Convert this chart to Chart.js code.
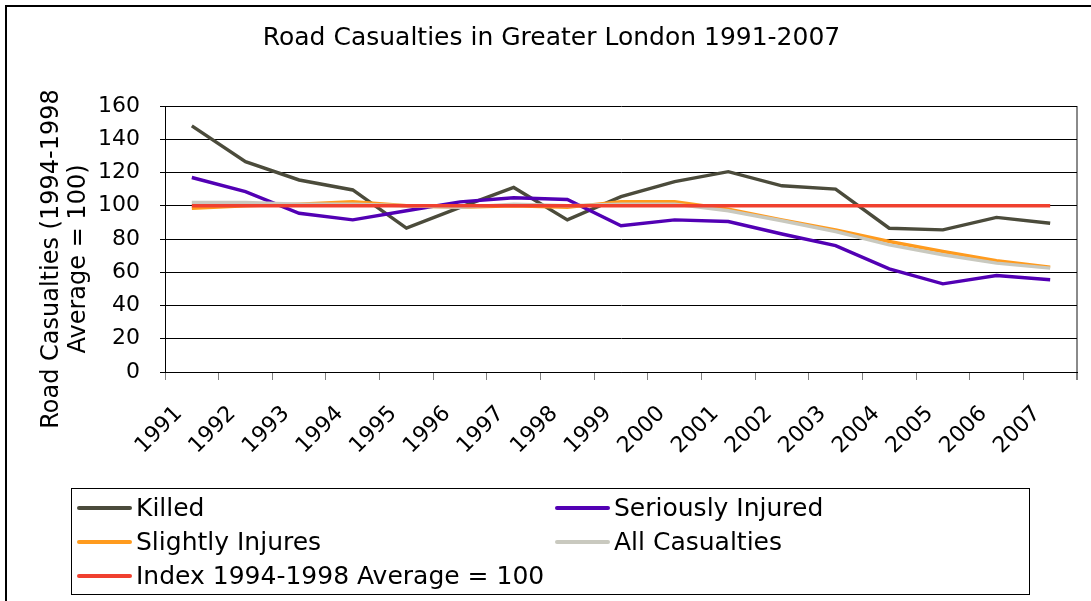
<!DOCTYPE html>
<html><head><meta charset="utf-8">
<script src="https://cdn.jsdelivr.net/npm/chart.js@4.4.1/dist/chart.umd.min.js"></script>
<style>html,body{margin:0;padding:0;background:#fff;} #wrap{position:relative;width:1091px;height:601px;}</style>
</head><body><div id="wrap"><canvas id="c"></canvas></div>
<script>
const chartTitle = 'Road Casualties in Greater London 1991-2007';
const yAxisTitle = ['Road Casualties (1994-1998', 'Average = 100)'];
const years = ['1991','1992','1993','1994','1995','1996','1997','1998','1999','2000','2001','2002','2003','2004','2005','2006','2007'];
const killed = [148, 126.5, 115.5, 109.5, 86.5, 99, 111, 91.5, 105.5, 114.5, 120.5, 112, 110, 86.5, 85.5, 93, 89.5];
const seriouslyInjured = [117, 108.5, 95.5, 91.5, 97, 102.3, 104.8, 103.8, 88, 91.5, 90.5, 83, 76, 62, 53, 58, 55.5];
const slightlyInjures = [98.5, 100, 101, 102.5, 100, 99, 100, 99, 102.5, 102.5, 98, 91.5, 85.5, 78.5, 72.5, 67, 63];
const allCasualties = [102, 102, 101, 101, 100, 99, 101, 100, 101, 101, 97, 91, 84.5, 76.5, 70.5, 65.5, 62.5];
const indexAverage = [100, 100, 100, 100, 100, 100, 100, 100, 100, 100, 100, 100, 100, 100, 100, 100, 100];
const seriesNames = ['Killed', 'Seriously Injured', 'Slightly Injures', 'All Casualties', 'Index 1994-1998 Average = 100'];
const seriesColors = ['#4b4b3b', '#5200b4', '#ff9b1e', '#c9c9bf', '#f0402f'];
const yMin = 0, yMax = 160, yStep = 20;

const FONT = '"DejaVu Sans", Verdana, sans-serif';

const framePlugin = {
  id: 'frame',
  beforeDraw(chart) {
    const ctx = chart.ctx;
    ctx.save();
    ctx.fillStyle = '#fff';
    ctx.fillRect(0, 0, chart.width, chart.height);
    ctx.strokeStyle = '#000';
    ctx.lineWidth = 2;
    ctx.beginPath();
    ctx.moveTo(6, chart.height);
    ctx.lineTo(6, 6);
    ctx.lineTo(chart.width, 6);
    ctx.stroke();
    ctx.restore();
  },
  afterDraw(chart) {
    const ctx = chart.ctx;
    ctx.save();
    // y axis title
    ctx.fillStyle = '#000';
    ctx.font = '24px ' + FONT;
    ctx.textAlign = 'center';
    ctx.textBaseline = 'middle';
    ctx.translate(52, 259);
    ctx.rotate(-Math.PI / 2);
    yAxisTitle.forEach((t, i) => ctx.fillText(t, 0, i * 27));
    ctx.restore();

    // legend
    ctx.save();
    const bx = 71, by = 488, bw = 958, bh = 106;
    ctx.strokeStyle = '#000';
    ctx.lineWidth = 1;
    ctx.strokeRect(bx + 0.5, by + 0.5, bw, bh);
    ctx.font = '25px ' + FONT;
    ctx.textBaseline = 'middle';
    ctx.textAlign = 'left';
    chart.data.datasets.forEach((ds, i) => {
      const col = i % 2, row = Math.floor(i / 2);
      const x0 = col === 0 ? 79 : 557;
      const y = 508 + row * 34;
      ctx.strokeStyle = ds.borderColor;
      ctx.lineWidth = 4;
      ctx.lineCap = 'round';
      ctx.beginPath();
      ctx.moveTo(x0, y);
      ctx.lineTo(x0 + 51, y);
      ctx.stroke();
      ctx.fillStyle = '#000';
      ctx.fillText(ds.label, x0 + 57, y + 1);
    });
    ctx.restore();
  }
};

const seriesData = [killed, seriouslyInjured, slightlyInjures, allCasualties, indexAverage];
const orders = [4, 3, 2, 1, 0];

new Chart(document.getElementById('c'), {
  type: 'line',
  data: {
    labels: years,
    datasets: seriesData.map((d, i) => ({
      label: seriesNames[i],
      data: d,
      borderColor: seriesColors[i],
      backgroundColor: seriesColors[i],
      borderWidth: 3.4,
      pointRadius: 0,
      tension: 0,
      fill: false,
      order: orders[i]
    }))
  },
  options: {
    responsive: true,
    maintainAspectRatio: false,
    animation: false,
    devicePixelRatio: 1,
    layout: { padding: { left: 26, right: 14, top: 0, bottom: 0 } },
    plugins: {
      legend: { display: false },
      tooltip: { enabled: false },
      title: {
        display: true,
        text: chartTitle,
        color: '#000',
        font: { family: FONT, size: 25, weight: 'normal', lineHeight: 1.2 },
        padding: { top: 23, bottom: 53 }
      }
    },
    scales: {
      x: {
        offset: true,
        grid: {
          offset: true,
          drawOnChartArea: true,
          drawTicks: true,
          tickLength: 8,
          tickColor: '#808080',
          color: (c) => (c.type === 'scale' ? '#8a8a8a' : 'rgba(0,0,0,0)'),
          lineWidth: (c) => (c.type === 'scale' ? 2 : 1)
        },
        border: { display: true, color: '#000', width: 1 },
        ticks: {
          color: '#000',
          font: { family: FONT, size: 22 },
          minRotation: 45,
          maxRotation: 45,
          autoSkip: false,
          padding: 21,
          labelOffset: -13
        },
        afterFit(scale) { scale.height = 229; }
      },
      y: {
        min: yMin,
        max: yMax,
        grid: { color: '#000', lineWidth: 1, tickLength: 5, tickColor: '#000', drawTicks: true },
        border: { display: true, color: '#000', width: 1 },
        ticks: {
          stepSize: yStep,
          color: '#000',
          font: { family: FONT, size: 22 },
          padding: 20
        },
        afterFit(scale) { scale.width = 139; }
      }
    }
  },
  plugins: [framePlugin]
});
</script>
</body></html>
